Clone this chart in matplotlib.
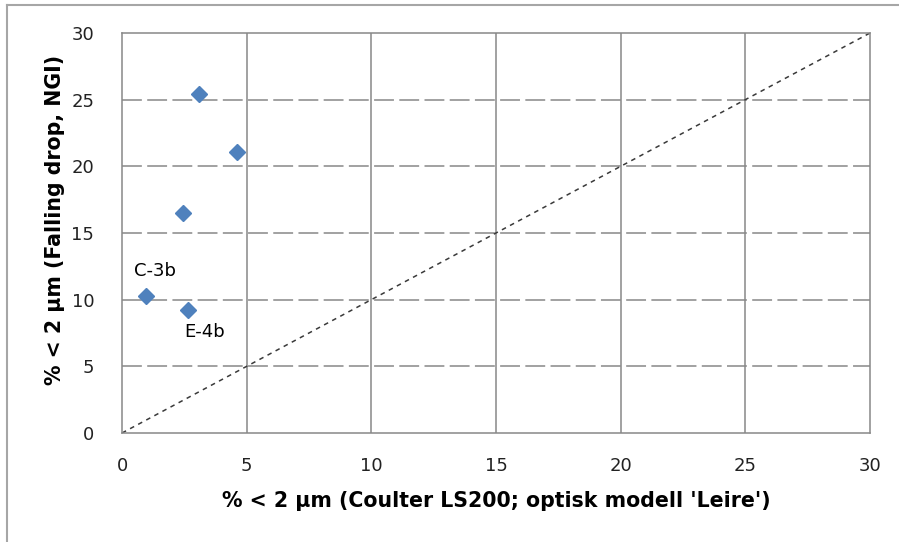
import matplotlib.pyplot as plt
import matplotlib.lines as mlines

plt.rcParams['font.family'] = ['DejaVu Sans']

# målte verdier: Coulter LS200 mot fallende dråpe
coulter = [0.96, 2.65, 2.45, 3.09, 4.61]
falling_drop = [10.25, 9.25, 16.5, 25.4, 21.05]
labels = ['C-3b', 'E-4b', '', '', '']
ticks = [0, 5, 10, 15, 20, 25, 30]

fig = plt.figure(figsize=(8.99, 5.42), dpi=100)
ax = fig.add_axes([122 / 899, 1 - 433 / 542, 748 / 899, 400 / 542])

# ramme rundt figuren (venstre og topp)
fig.add_artist(mlines.Line2D([7 / 899, 7 / 899], [0, 1 - 5 / 542], color='#a6a6a6', lw=1.5))
fig.add_artist(mlines.Line2D([7 / 899, 1], [1 - 5 / 542, 1 - 5 / 542], color='#a6a6a6', lw=1.5))

ax.set_xlim(0, 30)
ax.set_ylim(0, 30)
ax.set_xticks(ticks)
ax.set_yticks(ticks)

grid = '#888888'
for t in ticks[1:-1]:
    ax.axvline(t, color=grid, lw=1.1, zorder=1)
    ax.axhline(t, color=grid, lw=1.1, dashes=(13, 3.5), zorder=1)
for s in ax.spines.values():
    s.set_color(grid)
    s.set_linewidth(1.1)

# 1:1-linje
ax.plot([0, 30], [0, 30], color='#3a3a3a', lw=1.1, dashes=(3, 3), zorder=2)

ax.plot(coulter, falling_drop, 'D', color='#4f81bd', markersize=8.5, zorder=3)

ax.annotate(labels[0], (coulter[0], falling_drop[0]), xytext=(9, 25),
            textcoords='offset pixels', ha='center', va='center', fontsize=13)
ax.annotate(labels[1], (coulter[1], falling_drop[1]), xytext=(17, -22),
            textcoords='offset pixels', ha='center', va='center', fontsize=13)

ax.tick_params(length=0, labelsize=13, colors='#222222')
ax.tick_params(axis='x', pad=17)
ax.tick_params(axis='y', pad=20)
ax.set_xlabel("% < 2 µm (Coulter LS200; optisk modell 'Leire')", fontsize=14.8,
              fontweight='bold', va='center')
ax.set_ylabel('% < 2 µm (Falling drop, NGI)', fontsize=14.8, fontweight='bold',
              va='center')
ax.xaxis.set_label_coords(0.5, -0.17)
ax.yaxis.set_label_coords(-0.09, 0.533)

fig.savefig('out.png', dpi=100)
